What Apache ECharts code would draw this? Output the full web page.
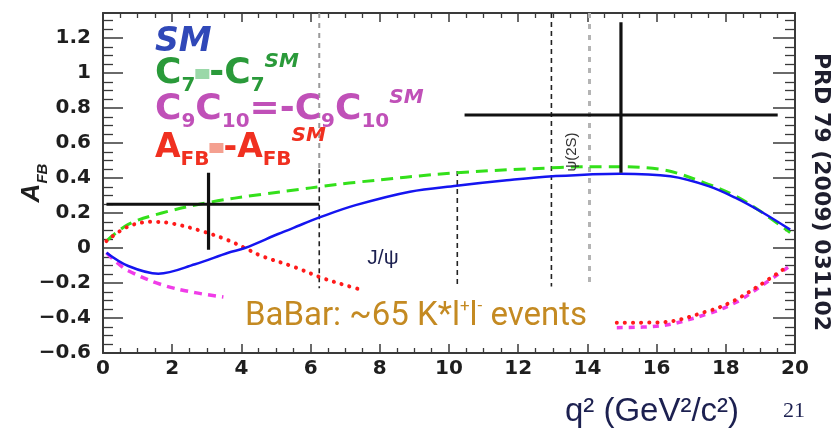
<!DOCTYPE html>
<html>
<head>
<meta charset="utf-8">
<script src="https://cdn.jsdelivr.net/npm/echarts@6/dist/echarts.min.js"></script>
<style>
  html, body { margin: 0; padding: 0; background: #fff; }
  #chart { width: 837px; height: 433px; }
</style>
</head>
<body>
<div id="chart"></div>
<script>
// Axis ranges and ticks
const xMin = 0, xMax = 20, xStep = 2;
const yMin = -0.6, yMax = 1.343, yStep = 0.2;

// Standard Model prediction (blue, solid)
const qSM   = [0.1, 0.73, 1.6, 2.66, 3.62, 4.1, 5.06, 5.69, 6.3, 7.3, 8.87, 10.22, 11.67, 13.0, 14.94, 16.4, 17.5, 18.27, 19.0, 19.86];
const afbSM = [-0.027, -0.103, -0.147, -0.093, -0.027, 0.0, 0.08, 0.13, 0.178, 0.245, 0.322, 0.356, 0.387, 0.41, 0.425, 0.41, 0.354, 0.288, 0.21, 0.105];

// C7 = -C7^SM (green, long dash)
const qC7   = [0.1, 0.73, 1.7, 3.04, 4.59, 5.69, 6.32, 7.28, 10.22, 13.2, 14.5, 16.1, 17.5, 18.3, 19.0, 19.86];
const afbC7 = [0.04, 0.135, 0.2, 0.26, 0.307, 0.335, 0.352, 0.375, 0.43, 0.46, 0.465, 0.45, 0.364, 0.295, 0.21, 0.088];

// AFB = -AFB^SM (red, dotted) – low and high q2 branches
const qFlipLo   = [0.1, 0.7, 1.4, 2.0, 2.85, 3.62, 4.1, 4.59, 5.55, 6.32, 7.09, 7.4];
const afbFlipLo = [0.04, 0.12, 0.15, 0.14, 0.097, 0.044, 0.0, -0.046, -0.11, -0.17, -0.218, -0.235];
const qFlipHi   = [14.85, 16.1, 17.5, 18.22, 19.0, 19.8];
const afbFlipHi = [-0.427, -0.425, -0.36, -0.303, -0.21, -0.103];

// C9C10 = -C9C10^SM (magenta, short dash) – low and high q2 branches
const qC910Lo   = [0.1, 0.35, 0.73, 1.7, 2.66, 3.48];
const afbC910Lo = [-0.027, -0.074, -0.13, -0.21, -0.255, -0.28];
const qC910Hi   = [14.85, 16.1, 17.5, 18.3, 19.0, 19.8];
const afbC910Hi = [-0.455, -0.445, -0.375, -0.31, -0.22, -0.11];

// BaBar measurement: bin edges, bin centre, value and error range
const binLo  = [0.1, 10.45];
const binHi  = [6.25, 19.5];
const binMid = [3.05, 14.97];
const afbVal = [0.25, 0.76];
const afbLo  = [-0.01, 0.43];
const afbHi  = [0.43, 1.29];

// Charmonium veto boundaries (vertical dashed lines)
const vetoQ      = [6.25, 6.25, 10.24, 12.96, 14.06];
const vetoTop    = [yMax, 0.45, 0.44, yMax, yMax];
const vetoBottom = [0.45, -0.23, -0.22, -0.22, -0.22];
const vetoKind   = ['grey', 'black', 'black', 'black', 'light'];

// Tick labels
const xTickLabels = ['0', '2', '4', '6', '8', '10', '12', '14', '16', '18', '20'];
const yTickLabels = ['\u22120.6', '\u22120.4', '\u22120.2', '0', '0.2', '0.4', '0.6', '0.8', '1', '1.2'];

const pairs = (xs, ys) => xs.map((x, i) => [x, ys[i]]);

const series = [];

// veto lines
const vetoStyles = {
  grey:  { color: '#9a9a9a', width: 2,   type: [5, 5] },
  black: { color: '#222222', width: 1.6, type: [5, 4] },
  light: { color: '#b4b4b4', width: 3,   type: [5, 6] }
};
vetoQ.forEach((q, i) => {
  series.push({
    type: 'line', silent: true, showSymbol: false, z: 1,
    data: [[q, vetoTop[i]], [q, vetoBottom[i]]],
    lineStyle: vetoStyles[vetoKind[i]]
  });
});

// theory curves
const curve = (xs, ys, style, z) => ({
  type: 'line', smooth: 0.35, showSymbol: false, silent: true, z: z || 3,
  data: pairs(xs, ys), lineStyle: style
});
const dotted = { color: '#ff1a1a', width: 4, type: [0.1, 8], cap: 'round' };
series.push(curve(qC910Lo, afbC910Lo, { color: '#f03ce8', width: 3.5, type: [8, 6] }));
series.push(curve(qC910Hi, afbC910Hi, { color: '#f03ce8', width: 3.5, type: [6, 6] }));
series.push(curve(qFlipLo, afbFlipLo, dotted, 4));
series.push(curve(qFlipHi, afbFlipHi, dotted, 4));
series.push(curve(qC7, afbC7, { color: '#33e01a', width: 3, type: [12, 7] }));
series.push(curve(qSM, afbSM, { color: '#1515f0', width: 2.5, type: 'solid' }, 4));

// measurement crosses
binMid.forEach((m, i) => {
  series.push({
    type: 'line', showSymbol: false, silent: true, z: 5,
    data: [[binLo[i], afbVal[i]], [binHi[i], afbVal[i]]],
    lineStyle: { color: '#111', width: 3.2 }
  });
  series.push({
    type: 'line', showSymbol: false, silent: true, z: 5,
    data: [[m, afbLo[i]], [m, afbHi[i]]],
    lineStyle: { color: '#111', width: 3.2 }
  });
});

// keep the frame axes (top / right) bound to a series
series.push({ type: 'line', xAxisIndex: 1, yAxisIndex: 1, data: [], silent: true });

const axisFont = { fontFamily: 'DejaVu Sans', fontWeight: 'bold', fontSize: 20, color: '#1e1e1e' };
const onStep = (v, step) => Math.abs(v / step - Math.round(v / step)) < 1e-6;
const frameAxis = (len, minorLen) => ({
  axisLine: { onZero: false, lineStyle: { color: '#3a3a3a', width: 2 } },
  axisTick: { inside: true, length: len, lineStyle: { color: '#3a3a3a', width: 1.5 } },
  minorTick: { show: true, splitNumber: 4, length: minorLen, lineStyle: { color: '#3a3a3a', width: 1.3 } },
  splitLine: { show: false }
});

const legendRich = (color, size) => ({
  c:   { fontFamily: 'DejaVu Sans', fontWeight: 'bold', fontSize: size, fill: color, verticalAlign: 'middle', lineHeight: 44 },
  sub: { fontFamily: 'DejaVu Sans', fontWeight: 'bold', fontSize: 20, fill: color, verticalAlign: 'bottom', lineHeight: 44 },
  sup: { fontFamily: 'DejaVu Sans', fontStyle: 'italic', fontWeight: 'bold', fontSize: 20, fill: color, verticalAlign: 'top', lineHeight: 44 }
});

const chart = echarts.init(document.getElementById('chart'), null, { renderer: 'canvas' });
chart.setOption({
  animation: false,
  backgroundColor: '#ffffff',
  grid: { left: 103, right: 42, top: 13, bottom: 80, containLabel: false, outerBoundsMode: 'none' },
  xAxis: [
    Object.assign({
      type: 'value', min: xMin, max: xMax, interval: xStep, position: 'bottom',
      axisLabel: Object.assign({ margin: 6, formatter: v => xTickLabels[Math.round(v / xStep)] }, axisFont)
    }, frameAxis(9, 5)),
    Object.assign({
      type: 'value', min: xMin, max: xMax, interval: xStep, position: 'top',
      axisLabel: { show: false }
    }, frameAxis(9, 5))
  ],
  yAxis: [
    Object.assign({
      type: 'value', min: yMin, max: yMax, interval: yStep, position: 'left',
      axisLabel: Object.assign({ margin: 12, showMaxLabel: false,
        formatter: v => (onStep(v - yMin, yStep) && v < 1.3) ? yTickLabels[Math.round((v - yMin) / yStep)] : '' }, axisFont),
      name: '{a|A}{s|FB}', nameLocation: 'middle', nameRotate: 90, nameGap: 53, nameMoveOverlap: false,
      nameTextStyle: {
        rich: {
          a: { fontFamily: 'Liberation Sans', fontStyle: 'italic', fontWeight: 'bold', fontSize: 26, color: '#1e1e1e', verticalAlign: 'middle', lineHeight: 36 },
          s: { fontFamily: 'Liberation Sans', fontStyle: 'italic', fontWeight: 'bold', fontSize: 15, color: '#1e1e1e', verticalAlign: 'bottom', lineHeight: 36 }
        }
      }
    }, frameAxis(20, 10)),
    Object.assign({
      type: 'value', min: yMin, max: yMax, interval: yStep, position: 'right',
      axisLabel: { show: false }
    }, frameAxis(22, 10))
  ],
  series: series,
  graphic: [
    // model legend
    {
      type: 'text', left: 155, top: 26, z: 10,
      style: { text: 'SM', fontFamily: 'DejaVu Sans', fontStyle: 'italic', fontWeight: 'bold', fontSize: 33, fill: '#3048b8' }
    },
    {
      type: 'text', left: 155, top: 52, z: 10,
      style: {
        text: '{c|C}{sub|7}{blk|}{c|-C}{sub|7}{sup|SM}',
        rich: Object.assign(legendRich('#2a9a3a', 36), {
          blk: { width: 14, height: 10, backgroundColor: '#9ad8a8', verticalAlign: 'middle', lineHeight: 10 }
        })
      }
    },
    {
      type: 'text', left: 155, top: 88, z: 10,
      style: {
        text: '{c|C}{sub|9}{c|C}{sub|10}{c|=-C}{sub|9}{c|C}{sub|10}{sup|SM}',
        rich: legendRich('#c050b8', 36)
      }
    },
    {
      type: 'text', left: 155, top: 126, z: 10,
      style: {
        text: '{c|A}{sub|FB}{blk|}{c|-A}{sub|FB}{sup|SM}',
        rich: Object.assign(legendRich('#f03020', 33), {
          blk: { width: 14, height: 10, backgroundColor: '#f4a090', verticalAlign: 'middle', lineHeight: 10 }
        })
      }
    },
    // resonance labels
    {
      type: 'text', x: 383, y: 258, z: 10,
      style: { text: 'J/\u03c8', fontFamily: 'Liberation Sans', fontSize: 21, fill: '#1c2050', align: 'center', verticalAlign: 'middle' }
    },
    {
      type: 'text', x: 572, y: 152, rotation: Math.PI / 2, z: 10,
      style: { text: '\u03c8(2S)', fontFamily: 'Liberation Sans', fontSize: 15, fill: '#333', align: 'center', verticalAlign: 'middle' }
    },
    // dataset note
    {
      type: 'text', x: 416, y: 317, z: 10,
      style: {
        text: '{t|BaBar: ~65 K*l}{s|+}{t|l}{s|-}{t| events}',
        align: 'center', verticalAlign: 'middle',
        rich: {
          t: { fontFamily: 'Roboto', fontSize: 33, fill: '#c48a22', verticalAlign: 'middle', lineHeight: 38 },
          s: { fontFamily: 'Roboto', fontSize: 17, fill: '#c48a22', verticalAlign: 'top', lineHeight: 38 }
        }
      }
    },
    // axis title
    {
      type: 'text', x: 652, y: 412, z: 10,
      style: { text: 'q\u00b2 (GeV\u00b2/c\u00b2)', fontFamily: 'Liberation Sans', fontSize: 33, fill: '#1c2050', align: 'center', verticalAlign: 'middle' }
    },
    // reference and page number
    {
      type: 'text', x: 821, y: 192, rotation: -Math.PI / 2, z: 10,
      style: { text: 'PRD 79 (2009) 031102', fontFamily: 'DejaVu Sans', fontWeight: 'bold', fontSize: 22, fill: '#1e1e2e', align: 'center', verticalAlign: 'middle' }
    },
    {
      type: 'text', x: 794, y: 411, z: 10,
      style: { text: '21', fontFamily: 'Liberation Serif', fontSize: 22, fill: '#1c2050', align: 'center', verticalAlign: 'middle' }
    }
  ]
});
</script>
</body>
</html>
